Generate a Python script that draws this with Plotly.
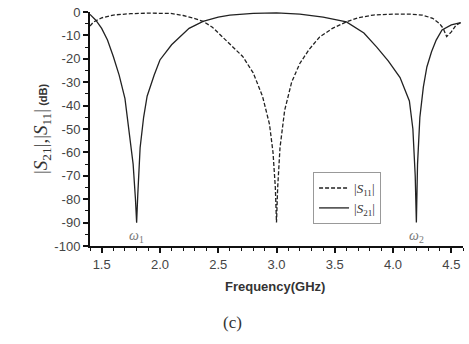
import plotly.graph_objects as go

# S21 (solid) frequency (GHz) and magnitude (dB)
s21_freq = [1.40, 1.45, 1.50, 1.55, 1.60, 1.65, 1.70, 1.74, 1.77, 1.79, 1.80, 1.81, 1.83, 1.86,
            1.89, 1.95, 2.00, 2.10, 2.17, 2.25, 2.37, 2.50, 2.60, 2.80, 3.00, 3.20, 3.40, 3.60,
            3.75, 3.86, 3.96, 4.06, 4.14, 4.17, 4.19, 4.20, 4.21, 4.23, 4.26, 4.29, 4.33, 4.37,
            4.42, 4.50, 4.58]
s21_db = [-1.0, -3.5, -7, -12, -19, -27, -37, -52, -65, -80, -90, -78, -58, -45,
          -36, -27, -20.5, -14, -10.7, -7, -4, -2.2, -1.3, -0.6, -0.4, -0.9, -2.2, -4.2,
          -9, -15, -21, -28, -38, -50, -70, -90, -65, -45, -32, -23.5, -17, -12,
          -7.7, -5.5, -4.5]

# S11 (dashed)
s11_freq = [1.40, 1.43, 1.50, 1.60, 1.75, 1.90, 2.09, 2.20, 2.30, 2.37, 2.45, 2.54, 2.62, 2.71,
            2.80, 2.88, 2.94, 2.97, 2.99, 3.00, 3.01, 3.03, 3.07, 3.13, 3.20, 3.28, 3.37, 3.48,
            3.60, 3.70, 3.83, 4.00, 4.14, 4.25, 4.34, 4.40, 4.43, 4.46, 4.50, 4.54, 4.58]
s11_db = [-6, -4.3, -2.5, -1.3, -0.7, -0.5, -0.6, -1.5, -2.8, -4, -6.5, -10.7, -14.5, -19,
          -26, -36, -48, -60, -75, -90, -75, -58, -42, -30, -22, -16, -10.7, -7,
          -4.2, -2.5, -1.3, -0.9, -0.9, -1.3, -2.7, -5, -7, -10.5, -8.5, -5.6, -4.6]

notch_freq = [1.80, 4.20]
notch_labels = ["<i>ω</i><sub>1</sub>", "<i>ω</i><sub>2</sub>"]

x_range = [1.4, 4.6]
y_range = [-100, 0]
x_ticks = [1.5, 2.0, 2.5, 3.0, 3.5, 4.0, 4.5]
y_ticks = list(range(-100, 1, 10))

fig = go.Figure()
fig.add_trace(go.Scatter(x=s11_freq, y=s11_db, mode="lines",
                         name="|<i>S</i><sub>11</sub>|",
                         line=dict(color="#222", width=1.3, dash="4px,2px")))
fig.add_trace(go.Scatter(x=s21_freq, y=s21_db, mode="lines",
                         name="|<i>S</i><sub>21</sub>|",
                         line=dict(color="#222", width=1.3)))

for f, t in zip(notch_freq, notch_labels):
    fig.add_annotation(x=f, y=-96, text=t, showarrow=False,
                       font=dict(family="Liberation Serif", size=14, color="#777"))

fig.add_annotation(xref="paper", yref="paper", x=0, y=0.5, xshift=-62,
                   textangle=-90, showarrow=False,
                   text='<span style="font-family:Liberation Serif;font-size:19px">|<i>S</i><sub>21</sub>|,|<i>S</i><sub>11</sub>|</span> <b>(dB)</b>',
                   font=dict(family="Liberation Sans", size=11, color="#333"))
fig.add_annotation(xref="paper", yref="paper", x=0.496, y=0, yshift=-40,
                   xanchor="center", yanchor="middle",
                   showarrow=False, text="<b>Frequency(GHz)</b>",
                   font=dict(family="Liberation Sans", size=13, color="#333"))
fig.add_annotation(xref="paper", yref="paper", x=0.383, y=0, yshift=-76,
                   xanchor="center", yanchor="middle",
                   showarrow=False, text="(c)",
                   font=dict(family="Liberation Serif", size=17, color="#333"))

axis_common = dict(showgrid=False, zeroline=False, showline=True, linecolor="#111",
                   linewidth=2, ticks="outside", ticklen=5, tickwidth=1.5, tickcolor="#111",
                   tickfont=dict(family="Liberation Sans", size=13, color="#444"))

fig.update_xaxes(range=x_range, tickvals=x_ticks, ticktext=[f"{v:.1f}" for v in x_ticks],
                 minor=dict(dtick=0.1, tick0=1.4, ticks="outside", ticklen=3, tickwidth=1.2,
                            tickcolor="#111"),
                 **axis_common)
fig.update_yaxes(range=y_range, tickvals=y_ticks, ticktext=[str(v) for v in y_ticks],
                 minor=dict(dtick=5, tick0=0, ticks="outside", ticklen=3, tickwidth=1.2,
                            tickcolor="#111"),
                 **axis_common)

fig.update_layout(
    width=469, height=344,
    margin=dict(l=90, r=6, t=12, b=98),
    plot_bgcolor="white", paper_bgcolor="white",
    legend=dict(x=0.598, y=0.316, xanchor="left", yanchor="top",
                bordercolor="#999", borderwidth=1, bgcolor="white",
                itemwidth=30, tracegroupgap=0,
                font=dict(family="Liberation Serif", size=13, color="#333")),
)

fig.write_html("out.html")
